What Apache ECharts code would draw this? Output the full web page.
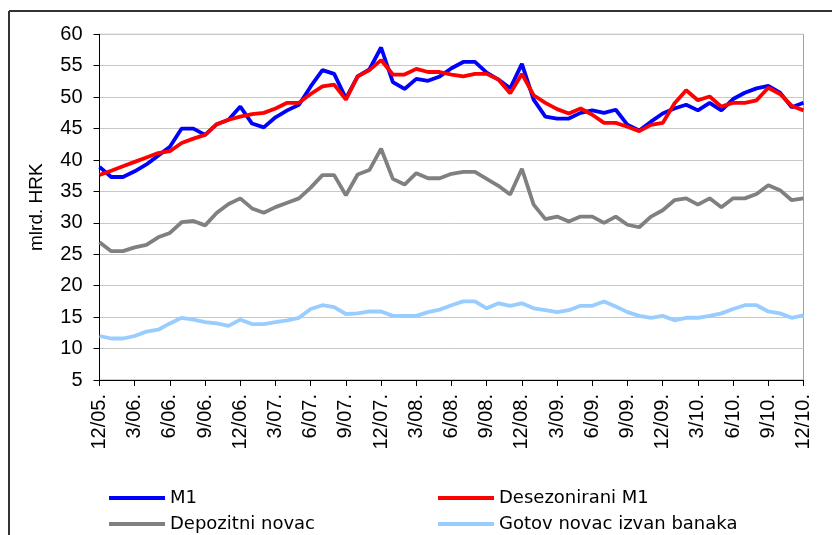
<!DOCTYPE html>
<html>
<head>
<meta charset="utf-8">
<script src="https://cdn.jsdelivr.net/npm/echarts@6/dist/echarts.min.js"></script>
<style>
  html, body { margin: 0; padding: 0; background: #fff; }
  #chart { width: 832px; height: 535px; }
</style>
</head>
<body>
<div id="chart"></div>
<script>
// mjesečne oznake od 12/05. do 12/10.
var months = ['12/05.'];
for (var y = 6; y <= 10; y++) {
  for (var m = 1; m <= 12; m++) {
    months.push(m + '/' + (y < 10 ? '0' + y : y) + '.');
  }
}

var m1 = [38.9,37.3,37.3,38.2,39.3,40.7,42.1,45.0,45.0,44.0,
          45.7,46.4,48.5,45.8,45.2,46.8,47.9,48.8,51.7,54.3,
          53.7,49.8,53.3,54.4,57.9,52.4,51.3,52.9,52.6,53.3,
          54.6,55.6,55.6,53.9,52.8,51.4,55.3,49.6,46.9,46.6,
          46.6,47.5,47.9,47.5,48.0,45.6,44.7,46.1,47.4,48.2,
          48.8,47.9,49.1,47.9,49.7,50.7,51.4,51.8,50.7,48.4,
          49.1];
var m1Desez = [37.6,38.3,39.0,39.7,40.4,41.1,41.4,42.7,43.4,44.0,
               45.7,46.4,46.9,47.3,47.5,48.2,49.1,49.1,50.5,51.7,
               52.0,49.6,53.3,54.3,55.9,53.6,53.6,54.5,54.0,54.0,
               53.6,53.3,53.7,53.7,52.8,50.6,53.7,50.3,49.1,48.1,
               47.4,48.2,47.2,45.9,45.9,45.3,44.6,45.6,45.9,49.0,
               51.1,49.5,50.1,48.5,49.1,49.1,49.5,51.5,50.5,48.6,
               47.9];
var depozitni = [26.9,25.5,25.5,26.1,26.5,27.7,28.4,30.1,30.3,29.6,
                 31.6,33.0,33.9,32.3,31.6,32.5,33.2,33.9,35.6,37.6,
                 37.6,34.4,37.7,38.4,41.8,37.0,36.1,37.9,37.1,37.1,
                 37.8,38.1,38.1,37.0,35.9,34.5,38.6,32.9,30.6,31.0,
                 30.2,31.0,31.0,30.0,31.0,29.7,29.3,31.0,32.0,33.6,
                 33.9,32.9,33.9,32.5,33.9,33.9,34.6,36.0,35.2,33.6,
                 33.9];
var gotovNovac = [12.0,11.6,11.6,12.0,12.7,13.0,14.0,14.9,14.6,14.2,
                  14.0,13.6,14.6,13.9,13.9,14.2,14.5,14.9,16.3,16.9,
                  16.6,15.5,15.6,15.9,15.9,15.2,15.2,15.2,15.8,16.2,
                  16.9,17.5,17.5,16.4,17.2,16.8,17.2,16.4,16.1,15.8,
                  16.1,16.8,16.8,17.5,16.7,15.8,15.2,14.9,15.2,14.5,
                  14.9,14.9,15.2,15.6,16.3,16.9,16.9,15.9,15.6,14.9,
                  15.3];

var FONT = 'Arial, "Liberation Sans", sans-serif';
var LEGEND_FONT = '"DejaVu Sans", sans-serif';

var chart = echarts.init(document.getElementById('chart'));

function line(name, data, color) {
  return {
    name: name,
    type: 'line',
    data: data,
    symbol: 'none',
    smooth: false,
    lineStyle: { color: color, width: 3.8 },
    itemStyle: { color: color },
    animation: false
  };
}

// jedna legenda po stavci, da raspored bude kao u originalu (2 x 2)
function legendItem(name, left, top) {
  return {
    data: [name],
    left: left, top: top,
    padding: 0,
    icon: 'rect', itemWidth: 56, itemHeight: 4,
    textStyle: { fontFamily: LEGEND_FONT, fontSize: 18, color: '#000' }
  };
}

var option = {
  backgroundColor: '#ffffff',
  animation: false,
  grid: {
    left: 99.5, right: 28.5, top: 34.3, bottom: 155,
    show: true, borderColor: '#a0a0a0', borderWidth: 1
  },
  // okvir grafikona (lijevo i gore)
  graphic: [
    { type: 'line', shape: { x1: 9, y1: 11, x2: 9, y2: 535 }, style: { stroke: '#333', lineWidth: 2 } },
    { type: 'line', shape: { x1: 9, y1: 11, x2: 832, y2: 11 }, style: { stroke: '#333', lineWidth: 2 } }
  ],
  legend: [
    legendItem('M1', 109, 489),
    legendItem('Depozitni novac', 109, 515),
    legendItem('Desezonirani M1', 438, 489),
    legendItem('Gotov novac izvan banaka', 438, 515)
  ],
  xAxis: {
    type: 'category',
    data: months,
    boundaryGap: false,
    axisLine: { lineStyle: { color: '#000', width: 1 } },
    axisTick: { interval: 2, length: 6, lineStyle: { color: '#000' } },
    axisLabel: {
      interval: 2, rotate: 90, margin: 14,
      fontFamily: FONT, fontSize: 20, color: '#000'
    },
    splitLine: { show: false }
  },
  yAxis: {
    type: 'value',
    min: 5, max: 60, interval: 5,
    name: 'mlrd. HRK',
    nameLocation: 'middle',
    nameGap: 53,
    nameTextStyle: { fontFamily: FONT, fontSize: 19, color: '#000' },
    axisLine: { show: true, lineStyle: { color: '#000', width: 1 } },
    axisTick: { show: true, length: 6, lineStyle: { color: '#000' } },
    axisLabel: { margin: 17, fontFamily: FONT, fontSize: 20, color: '#000' },
    splitLine: { lineStyle: { color: '#c8c8c8', width: 1 } }
  },
  series: [
    line('M1', m1, '#0000ff'),
    line('Desezonirani M1', m1Desez, '#ff0000'),
    line('Depozitni novac', depozitni, '#808080'),
    line('Gotov novac izvan banaka', gotovNovac, '#99ccff')
  ]
};

chart.setOption(option);
</script>
</body>
</html>
